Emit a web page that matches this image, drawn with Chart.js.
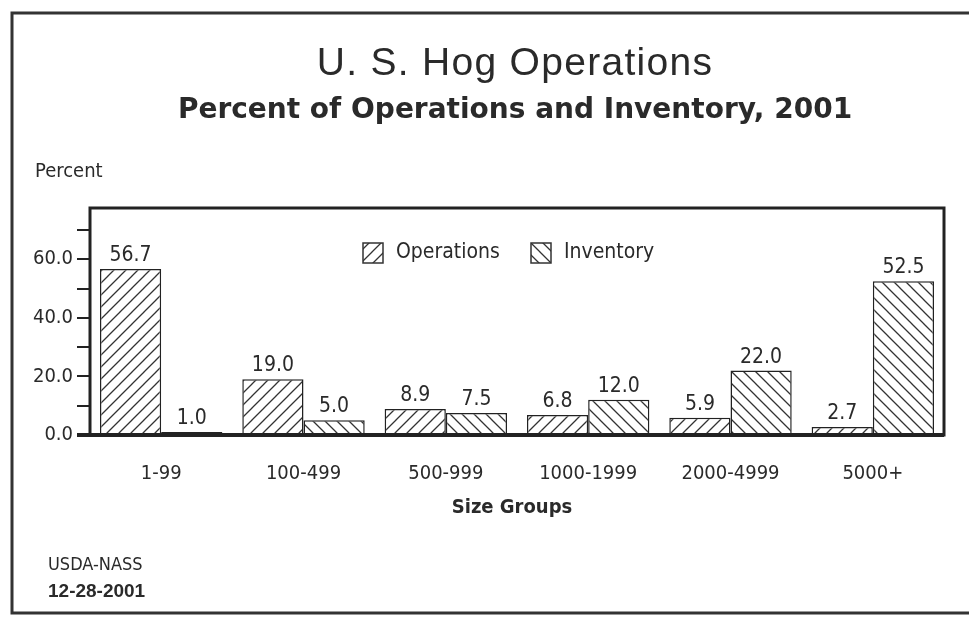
<!DOCTYPE html>
<html>
<head>
<meta charset="utf-8">
<script src="https://cdn.jsdelivr.net/npm/chart.js@4/dist/chart.umd.min.js"></script>
<style>
  html, body { margin: 0; padding: 0; background: #fff; }
  #wrap { width: 969px; height: 617px; }
</style>
</head>
<body>
<div id="wrap"><canvas id="hogChart" width="969" height="617"></canvas></div>
<script>
// data
const categories = ['1-99', '100-499', '500-999', '1000-1999', '2000-4999', '5000+'];
const operations = [56.7, 19.0, 8.9, 6.8, 5.9, 2.7];
const inventory = [1.0, 5.0, 7.5, 12.0, 22.0, 52.5];
const yLabelTicks = [0, 20, 40, 60];

const NARROW = '"Liberation Sans Narrow", "DejaVu Sans Condensed", sans-serif';
const ARIAL = '"Liberation Sans", Arial, sans-serif';
const WIDE = '"DejaVu Sans", Verdana, sans-serif';
const INK = '#2a2a2a';

function hatch(dir) {
    const s = 12;
    const c = document.createElement('canvas');
    c.width = s; c.height = s;
    const g = c.getContext('2d');
    g.fillStyle = '#fff';
    g.fillRect(0, 0, s, s);
    g.strokeStyle = '#333';
    g.lineWidth = 1.3;
    g.beginPath();
    if (dir === '/') {
        g.moveTo(-2, s + 2); g.lineTo(s + 2, -2);
        g.moveTo(-2, 2); g.lineTo(2, -2);
        g.moveTo(s - 2, s + 2); g.lineTo(s + 2, s - 2);
    } else {
        g.moveTo(-2, -2); g.lineTo(s + 2, s + 2);
        g.moveTo(s - 2, -2); g.lineTo(s + 2, 2);
        g.moveTo(-2, s - 2); g.lineTo(2, s + 2);
    }
    g.stroke();
    return g.createPattern(c, 'repeat');
}

const decorations = {
    id: 'decorations',
    afterDraw(chart) {
        const ctx = chart.ctx;
        const a = chart.chartArea;
        ctx.save();

        // outer frame
        ctx.strokeStyle = '#333';
        ctx.lineWidth = 3;
        ctx.beginPath();
        ctx.moveTo(969, 13); ctx.lineTo(12, 13); ctx.lineTo(12, 613); ctx.lineTo(969, 613);
        ctx.stroke();

        // titles
        ctx.fillStyle = INK;
        ctx.textAlign = 'center';
        ctx.textBaseline = 'middle';
        ctx.letterSpacing = '1.3px';
        ctx.font = '39px ' + ARIAL;
        ctx.fillText('U. S. Hog Operations', 515, 64);
        ctx.letterSpacing = '0px';
        ctx.font = 'bold 28px ' + WIDE;
        ctx.fillText('Percent of Operations and Inventory, 2001', 515, 111);

        ctx.textAlign = 'left';
        ctx.font = '20px ' + NARROW;
        ctx.fillText('Percent', 35, 172);

        // plot box
        ctx.strokeStyle = '#222';
        ctx.lineWidth = 3;
        ctx.strokeRect(a.left, a.top, a.right - a.left, a.bottom - a.top);
        ctx.lineWidth = 4;
        ctx.beginPath();
        ctx.moveTo(a.left - 13, a.bottom); ctx.lineTo(a.right, a.bottom);
        ctx.stroke();

        // value labels
        ctx.textAlign = 'center';
        ctx.textBaseline = 'bottom';
        ctx.font = '21px ' + NARROW;
        ctx.fillStyle = INK;
        chart.data.datasets.forEach((ds, i) => {
            chart.getDatasetMeta(i).data.forEach((bar, j) => {
                ctx.fillText(ds.data[j].toFixed(1), bar.x, bar.y - 3);
            });
        });

        // legend inside the plot
        const items = [
            { x: 363, ds: chart.data.datasets[0] },
            { x: 531, ds: chart.data.datasets[1] }
        ];
        ctx.textAlign = 'left';
        ctx.textBaseline = 'middle';
        ctx.font = '21px ' + NARROW;
        items.forEach(it => {
            ctx.fillStyle = it.ds.backgroundColor;
            ctx.fillRect(it.x, 243, 20, 20);
            ctx.lineWidth = 1.5;
            ctx.strokeStyle = '#333';
            ctx.strokeRect(it.x, 243, 20, 20);
            ctx.fillStyle = INK;
            ctx.fillText(it.ds.label, it.x + 33, 253);
        });

        // axis title
        ctx.textAlign = 'center';
        ctx.font = 'bold 20px ' + NARROW;
        ctx.fillText('Size Groups', 512, 508);

        // source footer
        ctx.textAlign = 'left';
        ctx.font = '18px ' + NARROW;
        ctx.fillText('USDA-NASS', 48, 565);
        ctx.font = 'bold 19px ' + ARIAL;
        ctx.fillText('12-28-2001', 48, 592);

        ctx.restore();
    }
};

const hogChart = new Chart(document.getElementById('hogChart').getContext('2d'), {
    type: 'bar',
    data: {
        labels: categories,
        datasets: [{
            label: 'Operations',
            data: operations,
            backgroundColor: hatch('/'),
            borderColor: '#222',
            borderWidth: 1.5
        }, {
            label: 'Inventory',
            data: inventory,
            backgroundColor: hatch('\\'),
            borderColor: '#222',
            borderWidth: 1.5
        }]
    },
    options: {
        responsive: false,
        animation: false,
        layout: { padding: { left: 0, right: 25, top: 208, bottom: 132 } },
        datasets: { bar: { categoryPercentage: 0.86, barPercentage: 1.0 } },
        plugins: {
            legend: { display: false },
            title: { display: false },
            tooltip: { enabled: false }
        },
        scales: {
            x: {
                grid: { display: false },
                border: { display: false },
                ticks: { color: INK, font: { family: NARROW, size: 20 }, padding: 19 },
                afterFit(scale) { scale.height = 50; }
            },
            y: {
                min: 0,
                max: 77.5,
                grid: { drawOnChartArea: false, drawTicks: true, tickLength: 13, color: '#222', lineWidth: 2 },
                border: { display: false },
                ticks: {
                    stepSize: 10,
                    padding: 4,
                    color: INK,
                    font: { family: NARROW, size: 20 },
                    callback: v => yLabelTicks.includes(v) ? v.toFixed(1) : ''
                },
                afterBuildTicks(scale) { scale.ticks = scale.ticks.filter(t => t.value % 10 === 0); },
                afterFit(scale) { scale.width = 90; }
            }
        }
    },
    plugins: [decorations]
});
</script>
</body>
</html>
